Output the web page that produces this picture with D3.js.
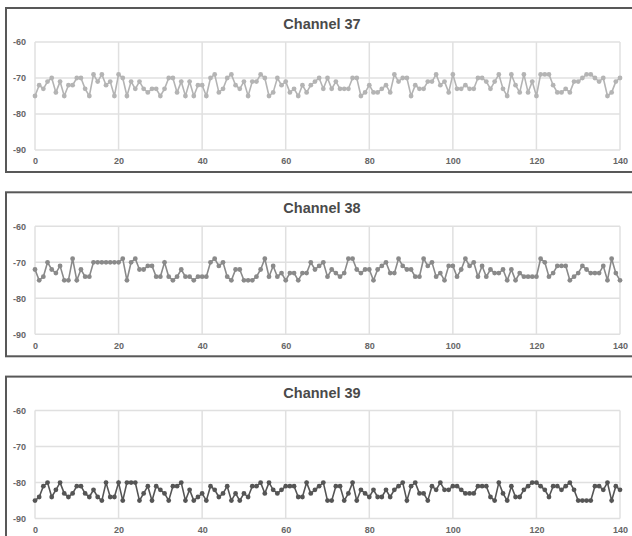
<!DOCTYPE html>
<html>
<head>
<meta charset="utf-8">
<script src="https://cdn.jsdelivr.net/npm/d3@7"></script>
<style>
  body { margin: 0; background: #fff; }
  text { font-family: "Liberation Sans", Arial, sans-serif; }
</style>
</head>
<body>
<div id="container"></div>
<script>
// values (dBm per sample)
let channels = ['Channel 37', 'Channel 38', 'Channel 39']
let xTicks = [0, 20, 40, 60, 80, 100, 120, 140]
let yTicks = [-60, -70, -80, -90]

let ch37 = [
  -75,-72,-73,-71,-70,-74,-71,-75,-72,-72,
  -70,-70,-73,-75,-69,-71,-69,-72,-71,-75,
  -69,-70,-75,-71,-73,-71,-73,-74,-73,-73,
  -75,-73,-70,-70,-74,-71,-75,-71,-75,-72,
  -72,-75,-70,-69,-74,-73,-70,-69,-72,-73,
  -71,-75,-71,-71,-69,-70,-75,-74,-70,-72,
  -71,-74,-73,-75,-72,-74,-72,-71,-70,-73,
  -70,-73,-71,-73,-73,-73,-70,-70,-75,-74,
  -72,-74,-74,-73,-72,-74,-69,-71,-70,-70,
  -75,-72,-73,-73,-71,-71,-69,-72,-71,-74,
  -69,-73,-73,-72,-73,-73,-70,-70,-71,-73,
  -71,-69,-73,-75,-69,-72,-74,-69,-74,-71,
  -75,-69,-69,-69,-72,-74,-74,-73,-74,-71,
  -71,-70,-69,-69,-70,-71,-70,-75,-74,-71,
  -70
]
let ch38 = [
  -72,-75,-74,-70,-72,-73,-71,-75,-75,-69,
  -75,-72,-74,-74,-70,-70,-70,-70,-70,-70,
  -70,-69,-75,-70,-69,-72,-72,-71,-71,-74,
  -74,-70,-74,-75,-74,-72,-74,-74,-75,-74,
  -74,-74,-70,-69,-71,-70,-74,-75,-72,-72,
  -75,-75,-75,-74,-72,-69,-74,-71,-74,-73,
  -75,-73,-73,-75,-73,-73,-70,-72,-71,-70,
  -74,-72,-73,-74,-73,-69,-69,-72,-73,-72,
  -72,-75,-72,-71,-70,-73,-73,-69,-71,-72,
  -72,-74,-74,-69,-71,-70,-74,-73,-75,-71,
  -71,-74,-72,-69,-71,-70,-74,-71,-74,-72,
  -73,-73,-72,-75,-72,-75,-73,-74,-74,-74,
  -74,-69,-70,-74,-73,-71,-71,-71,-75,-74,
  -73,-71,-72,-73,-73,-73,-71,-75,-69,-73,
  -75
]
let ch39 = [
  -85,-84,-81,-80,-84,-82,-80,-83,-84,-83,
  -81,-81,-83,-84,-82,-84,-85,-80,-84,-84,
  -80,-85,-80,-80,-80,-85,-83,-81,-85,-81,
  -82,-83,-85,-81,-81,-80,-85,-82,-85,-84,
  -83,-85,-81,-82,-84,-83,-81,-85,-83,-85,
  -83,-84,-81,-81,-80,-83,-80,-82,-83,-82,
  -81,-81,-81,-84,-84,-80,-83,-82,-81,-80,
  -85,-85,-81,-81,-85,-83,-80,-85,-82,-83,
  -84,-82,-84,-84,-82,-84,-82,-81,-80,-85,
  -81,-80,-83,-83,-85,-81,-82,-80,-82,-82,
  -81,-81,-82,-83,-83,-83,-81,-81,-81,-84,
  -85,-80,-83,-85,-81,-84,-84,-82,-81,-80,
  -80,-81,-82,-84,-81,-81,-82,-81,-80,-82,
  -85,-85,-85,-85,-81,-81,-82,-80,-85,-81,
  -82
]

let series = [ch37, ch38, ch39]
let colors = ['#b4b4b4', '#8a8a8a', '#555555']

let width = 632
let height = 536
let panelStep = 184.3
let panelHeight = 164
let svg

function main() {
    svg = d3.select('#container').append('svg')
      .attr('width', width)
      .attr('height', height)

    for (let k = 0; k < series.length; k++) {
        buildPanel(k, 8 + k * panelStep)
    }
}

function buildPanel(k, top) {
    let g = svg.append('g')

    g.append('rect')
      .attr('x', 6)
      .attr('y', top)
      .attr('width', 640)
      .attr('height', panelHeight)
      .attr('fill', '#fff')
      .attr('stroke', '#585858')
      .attr('stroke-width', 2)

    g.append('text')
      .attr('x', 322)
      .attr('y', top + 21)
      .attr('text-anchor', 'middle')
      .style('font-size', '14.5px')
      .style('font-weight', 'bold')
      .style('fill', '#4a4a4a')
      .text(channels[k])

    const xScale = d3.scaleLinear()
      .domain([0, 140])
      .range([35, 620])

    const yScale = d3.scaleLinear()
      .domain([-90, -60])
      .range([top + 142, top + 34])

    // grid
    g.append('g')
      .selectAll('line.v')
      .data(xTicks)
      .enter()
      .append('line')
      .attr('x1', d => xScale(d))
      .attr('x2', d => xScale(d))
      .attr('y1', yScale(-60))
      .attr('y2', yScale(-90))
      .attr('stroke', '#e0e0e0')
      .attr('stroke-width', 1.5)

    g.append('g')
      .selectAll('line.h')
      .data(yTicks)
      .enter()
      .append('line')
      .attr('x1', xScale(0))
      .attr('x2', xScale(140))
      .attr('y1', d => yScale(d))
      .attr('y2', d => yScale(d))
      .attr('stroke', '#e0e0e0')
      .attr('stroke-width', 1.5)

    const yAxis = d3.axisLeft(yScale)
      .tickValues(yTicks)
      .tickFormat(d => String(d))
      .tickSize(0)
      .tickPadding(9)

    const xAxis = d3.axisBottom(xScale)
      .tickValues(xTicks)
      .tickFormat(d => String(d))
      .tickSize(0)
      .tickPadding(8)

    let ya = g.append('g')
      .attr('transform', 'translate(35,0)')
      .call(yAxis)
    let xa = g.append('g')
      .attr('transform', 'translate(0,' + (top + 142) + ')')
      .call(xAxis)

    for (let a of [ya, xa]) {
        a.select('.domain').remove()
        a.selectAll('text')
          .style('font-size', '9px')
          .style('font-weight', 'bold')
          .style('fill', '#666')
    }

    let data = series[k].map((v, i) => ({x: i, y: v}))

    const line = d3.line()
      .x(d => xScale(d.x))
      .y(d => yScale(d.y))

    g.append('path')
      .datum(data)
      .attr('d', line)
      .attr('fill', 'none')
      .attr('stroke', colors[k])
      .attr('stroke-width', 1.6)

    g.selectAll('circle')
      .data(data)
      .enter()
      .append('circle')
      .attr('cx', d => xScale(d.x))
      .attr('cy', d => yScale(d.y))
      .attr('r', 2.4)
      .style('fill', colors[k])
}

main()
</script>
</body>
</html>
